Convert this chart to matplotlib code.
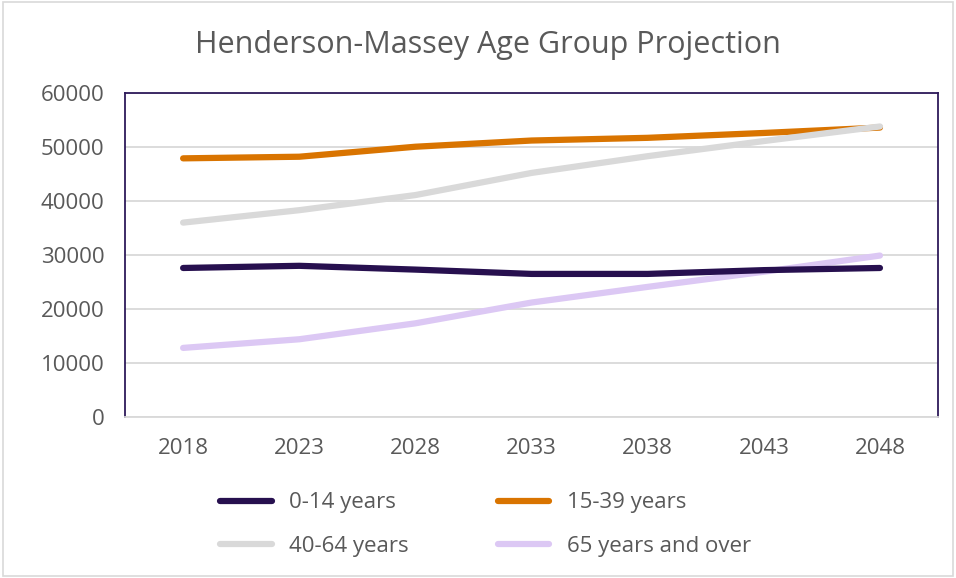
import numpy as np
import matplotlib.pyplot as plt
from matplotlib.patches import Rectangle

years = ['2018', '2023', '2028', '2033', '2038', '2043', '2048']
age_0_14 = [27600, 28000, 27300, 26500, 26500, 27200, 27600]
age_15_39 = [47900, 48200, 50050, 51200, 51700, 52600, 53600]
age_40_64 = [36000, 38300, 41100, 45200, 48300, 51100, 53800]
age_65_plus = [12800, 14400, 17350, 21200, 24100, 26900, 29900]

labels = ['0-14 years', '15-39 years', '40-64 years', '65 years and over']
colors = ['#27104f', '#d97400', '#d9d9d9', '#dcc8f4']

plt.rcParams['font.family'] = ['Open Sans', 'DejaVu Sans']
text_col = '#595959'

fig = plt.figure(figsize=(9.56, 5.78), dpi=100)
ax = fig.add_axes([0.1308, 0.2785, 0.8504, 0.5606])

x = np.arange(len(years))
series = [age_0_14, age_15_39, age_40_64, age_65_plus]
lines = []
for vals, lab, c in zip(series, labels, colors):
    ln, = ax.plot(x, vals, color=c, lw=4.5, solid_capstyle='round', label=lab)
    lines.append(ln)
lines[0].set_zorder(3)

ax.set_xlim(-0.5, len(years) - 0.5)
ax.set_ylim(0, 60000)
ax.set_yticks(np.arange(0, 60001, 10000))
ax.set_xticks(x)
ax.set_xticklabels(years)
ax.yaxis.grid(True, color='#d9d9d9', lw=1.3)
ax.set_axisbelow(True)
ax.tick_params(length=0, labelsize=16, colors=text_col)
ax.tick_params(axis='y', pad=15)
ax.tick_params(axis='x', pad=15)
for s in ax.spines.values():
    s.set_color('#2e1a5a')
    s.set_linewidth(1.3)
ax.spines['bottom'].set_color('#d9d9d9')

fig.text(0.51, 0.923, 'Henderson-Massey Age Group Projection', ha='center', va='center',
         fontsize=22, color=text_col)

# row-wise legend order: 0-14, 15-39 / 40-64, 65+
fig.legend(handles=[lines[0], lines[2], lines[1], lines[3]], ncol=2, loc='center',
           bbox_to_anchor=(0.508, 0.0925), frameon=False, fontsize=16, labelcolor=text_col,
           handlelength=2.3, handletextpad=0.8, columnspacing=4.0, labelspacing=1.0)

fig.patches.append(Rectangle((0.003, 0.003), 0.994, 0.994, transform=fig.transFigure,
                             fill=False, edgecolor='#d9d9d9', lw=1.2))

fig.savefig('out.png', dpi=100)
